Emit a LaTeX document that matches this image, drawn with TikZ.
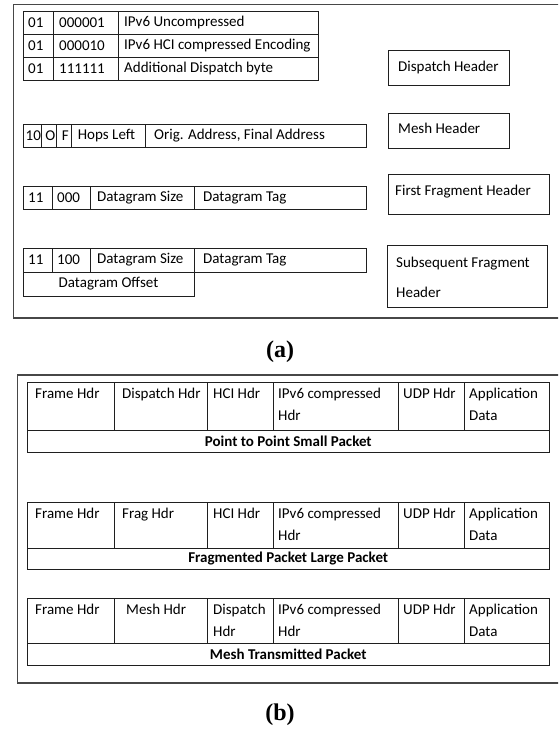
\documentclass[tikz,border=0pt]{standalone}
\usepackage{fontspec}
\setmainfont{Carlito}
\newfontfamily\capfont{Liberation Serif}
\newcommand{\mycell}[5]{%
  \pgfmathsetmacro\mycw{#4-#2}\pgfmathsetmacro\mych{#5-#3}%
  \node[cellbox, minimum width=\mycw pt, minimum height=\mych pt] (#1) at (#2,#3) {};}
\begin{document}
\begin{tikzpicture}[x=1pt,y=-1pt,
  framepath/.style={draw=black!72, line width=1.5pt},
  cellbox/.style={draw=black!88, line width=0.9pt, inner sep=0pt, outer sep=0pt, anchor=north west},
  txt/.style={font=\fontsize{15}{18}\selectfont, inner sep=0pt, anchor=west},
  mtxt/.style={font=\fontsize{15}{22}\selectfont, inner sep=0pt, anchor=north west, align=left},
  btxt/.style={font=\fontsize{15}{18}\selectfont\bfseries, inner sep=0pt},
  caplabel/.style={font=\capfont\bfseries\fontsize{24}{28}\selectfont, inner sep=0pt}]
\clip (0,0) rectangle (558,736);
\fill[white] (0,0) rectangle (558,736);
% ---------- frame (a)
\coordinate (fa1) at (560,4.5);
\coordinate (fa2) at (13.5,4.5);
\coordinate (fa3) at (13.5,318);
\coordinate (fa4) at (560,318);
\draw[framepath] (fa1) -- (fa2) -- (fa3) -- (fa4);
% dispatch table
\mycell{d11}{23}{11.5}{53}{34.5}\mycell{d12}{53}{11.5}{118}{34.5}\mycell{d13}{118}{11.5}{318}{34.5}
\mycell{d21}{23}{34.5}{53}{57.5}\mycell{d22}{53}{34.5}{118}{57.5}\mycell{d23}{118}{34.5}{318}{57.5}
\mycell{d31}{23}{57.5}{53}{80.5}\mycell{d32}{53}{57.5}{118}{80.5}\mycell{d33}{118}{57.5}{318}{80.5}
\node[txt] at ([xshift=5pt]d11.west) {01};
\node[txt] at ([xshift=6pt]d12.west) {000001};
\node[txt] at ([xshift=6pt]d13.west) {IPv6 Uncompressed};
\node[txt] at ([xshift=5pt]d21.west) {01};
\node[txt] at ([xshift=6pt]d22.west) {000010};
\node[txt] at ([xshift=6pt]d23.west) {IPv6 HCI compressed Encoding};
\node[txt] at ([xshift=5pt]d31.west) {01};
\node[txt] at ([xshift=6pt]d32.west) {111111};
\node[txt] at ([xshift=6pt]d33.west) {Additional Dispatch byte};
% mesh table
\mycell{m1}{23}{124}{41.7}{147}\mycell{m2}{41.7}{124}{56.7}{147}\mycell{m3}{56.7}{124}{71.7}{147}
\mycell{m4}{71.7}{124}{145}{147}\mycell{m5}{145}{124}{366.5}{147}
\node[txt] at ([xshift=2.5pt]m1.west) {10};
\node[txt] at ([xshift=3.5pt]m2.west) {O};
\node[txt] at ([xshift=5pt]m3.west) {F};
\node[txt] at ([xshift=6pt]m4.west) {Hops Left};
\node[txt] at ([xshift=9pt]m5.west) {Orig. Address, Final Address};
% first fragment
\mycell{f1}{23}{186}{52}{209}\mycell{f2}{52}{186}{90}{209}\mycell{f3}{90}{186}{194}{209}\mycell{f4}{194}{186}{366.5}{209}
\node[txt] at ([xshift=5pt]f1.west) {11};
\node[txt] at ([xshift=5pt]f2.west) {000};
\node[txt] at ([xshift=7pt]f3.west) {Datagram Size};
\node[txt] at ([xshift=9pt]f4.west) {Datagram Tag};
% subsequent fragment
\mycell{s1}{23}{248}{52}{272}\mycell{s2}{52}{248}{90}{272}\mycell{s3}{90}{248}{194}{272}\mycell{s4}{194}{248}{366.5}{272}
\mycell{s5}{23}{272}{194}{296}
\node[txt] at ([xshift=5pt]s1.west) {11};
\node[txt] at ([xshift=5pt]s2.west) {100};
\node[txt] at ([xshift=7pt]s3.west) {Datagram Size};
\node[txt] at ([xshift=9pt]s4.west) {Datagram Tag};
\node[txt, anchor=center] at (s5.center) {Datagram Offset};
% right boxes
\mycell{rb1}{388}{50}{509}{85}
\mycell{rb2}{388}{113}{509}{148}
\mycell{rb3}{388}{174}{549}{214}
\mycell{rb4}{387}{245}{547}{307}
\node[txt] at ([xshift=10pt,yshift=0pt]rb1.west) {Dispatch Header};
\node[txt] at ([xshift=10pt,yshift=2pt]rb2.west) {Mesh Header};
\node[txt] at ([xshift=7pt,yshift=2pt]rb3.west) {First Fragment Header};
\node[mtxt, font=\fontsize{15}{30}\selectfont] at ([xshift=9pt,yshift=-12pt]rb4.north west) {Subsequent Fragment\\Header};
% caption a
\node[caplabel] (capa) at (280,352) {(a)};
% ---------- frame (b)
\coordinate (fb1) at (560,375);
\coordinate (fb2) at (17.3,375);
\coordinate (fb3) at (17.3,683);
\coordinate (fb4) at (560,683);
\draw[framepath] (fb1) -- (fb2) -- (fb3) -- (fb4);
% table 1
\mycell{pa1}{27}{382}{114}{430}\mycell{pa2}{114}{382}{207}{430}\mycell{pa3}{207}{382}{273}{430}
\mycell{pa4}{273}{382}{398}{430}\mycell{pa5}{398}{382}{464}{430}\mycell{pa6}{464}{382}{549.5}{430}
\mycell{pa7}{27}{430}{549.5}{452}
\node[mtxt] at ([xshift=8pt,yshift=-6pt]pa1.north west) {Frame Hdr};
\node[mtxt] at ([xshift=8pt,yshift=-6pt]pa2.north west) {Dispatch Hdr};
\node[mtxt] at ([xshift=6pt,yshift=-6pt]pa3.north west) {HCI Hdr};
\node[mtxt] at ([xshift=5pt,yshift=-6pt]pa4.north west) {IPv6 compressed\\Hdr};
\node[mtxt] at ([xshift=5pt,yshift=-6pt]pa5.north west) {UDP Hdr};
\node[mtxt] at ([xshift=5pt,yshift=-6pt]pa6.north west) {Application\\Data};
\node[btxt] at (pa7.center) {Point to Point Small Packet};
% table 2
\mycell{pb1}{27}{502}{114}{548}\mycell{pb2}{114}{502}{207}{548}\mycell{pb3}{207}{502}{273}{548}
\mycell{pb4}{273}{502}{398}{548}\mycell{pb5}{398}{502}{464}{548}\mycell{pb6}{464}{502}{549.5}{548}
\mycell{pb7}{27}{548}{549.5}{569}
\node[mtxt] at ([xshift=8pt,yshift=-6pt]pb1.north west) {Frame Hdr};
\node[mtxt] at ([xshift=8pt,yshift=-6pt]pb2.north west) {Frag Hdr};
\node[mtxt] at ([xshift=6pt,yshift=-6pt]pb3.north west) {HCI Hdr};
\node[mtxt] at ([xshift=5pt,yshift=-6pt]pb4.north west) {IPv6 compressed\\Hdr};
\node[mtxt] at ([xshift=5pt,yshift=-6pt]pb5.north west) {UDP Hdr};
\node[mtxt] at ([xshift=5pt,yshift=-6pt]pb6.north west) {Application\\Data};
\node[btxt] at (pb7.center) {Fragmented Packet Large Packet};
% table 3
\mycell{pc1}{27}{598}{114}{643.5}\mycell{pc2}{114}{598}{207}{643.5}\mycell{pc3}{207}{598}{273}{643.5}
\mycell{pc4}{273}{598}{398}{643.5}\mycell{pc5}{398}{598}{464}{643.5}\mycell{pc6}{464}{598}{549.5}{643.5}
\mycell{pc7}{27}{643.5}{549.5}{665}
\node[mtxt] at ([xshift=8pt,yshift=-6pt]pc1.north west) {Frame Hdr};
\node[mtxt] at ([xshift=12pt,yshift=-6pt]pc2.north west) {Mesh Hdr};
\node[mtxt] at ([xshift=6pt,yshift=-6pt]pc3.north west) {Dispatch\\Hdr};
\node[mtxt] at ([xshift=5pt,yshift=-6pt]pc4.north west) {IPv6 compressed\\Hdr};
\node[mtxt] at ([xshift=5pt,yshift=-6pt]pc5.north west) {UDP Hdr};
\node[mtxt] at ([xshift=5pt,yshift=-6pt]pc6.north west) {Application\\Data};
\node[btxt] at (pc7.center) {Mesh Transmitted Packet};
% caption b
\node[caplabel] (capb) at (280,715) {(b)};
\end{tikzpicture}
\end{document}
